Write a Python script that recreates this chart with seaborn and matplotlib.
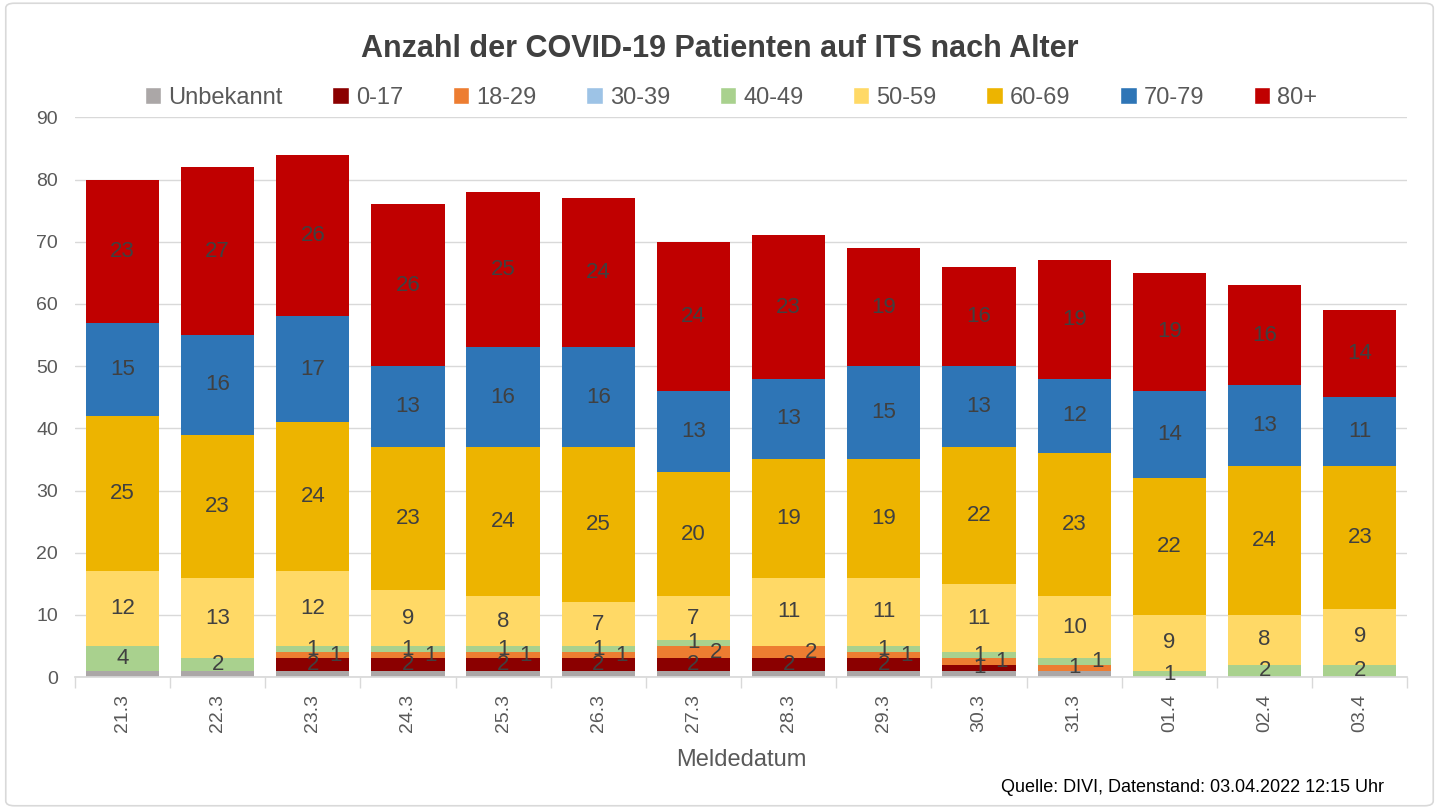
import numpy as np
import pandas as pd
import seaborn as sns
import matplotlib.pyplot as plt
from matplotlib.patches import Patch, FancyBboxPatch

# --- dati ---
datum = ["21.3", "22.3", "23.3", "24.3", "25.3", "26.3", "27.3",
         "28.3", "29.3", "30.3", "31.3", "01.4", "02.4", "03.4"]
gruppi = ["Unbekannt", "0-17", "18-29", "30-39", "40-49",
          "50-59", "60-69", "70-79", "80+"]

unbekannt = [1, 1, 1, 1, 1, 1, 1, 1, 1, 1, 1, 0, 0, 0]
a_0_17 = [0, 0, 2, 2, 2, 2, 2, 2, 2, 1, 0, 0, 0, 0]
a_18_29 = [0, 0, 1, 1, 1, 1, 2, 2, 1, 1, 1, 0, 0, 0]
a_30_39 = [0, 0, 0, 0, 0, 0, 0, 0, 0, 0, 0, 0, 0, 0]
a_40_49 = [4, 2, 1, 1, 1, 1, 1, 0, 1, 1, 1, 1, 2, 2]
a_50_59 = [12, 13, 12, 9, 8, 7, 7, 11, 11, 11, 10, 9, 8, 9]
a_60_69 = [25, 23, 24, 23, 24, 25, 20, 19, 19, 22, 23, 22, 24, 23]
a_70_79 = [15, 16, 17, 13, 16, 16, 13, 13, 15, 13, 12, 14, 13, 11]
a_80 = [23, 27, 26, 26, 25, 24, 24, 23, 19, 16, 19, 19, 16, 14]

colori = ["#ABA7A7", "#8B0000", "#ED7D31", "#9DC3E6", "#A9D18E",
          "#FFD966", "#EDB400", "#2E75B6", "#C00000"]

df = pd.DataFrame(
    [unbekannt, a_0_17, a_18_29, a_30_39, a_40_49, a_50_59, a_60_69, a_70_79, a_80],
    index=gruppi, columns=datum,
).T

sns.set_theme(style="white")
plt.rcParams["font.family"] = ["Liberation Sans", "DejaVu Sans"]
testo = "#595959"

fig = plt.figure(figsize=(14.39, 8.09), dpi=100)
ax = fig.add_axes([0.052, 0.163, 0.926, 0.692])

base = np.zeros(len(datum))
# ultima etichetta per colonna (centro / spostata a destra), per evitare sovrapposizioni
ultima_c = np.full(len(datum), -10.0)
ultima_d = np.full(len(datum), -10.0)
for gruppo, col in zip(gruppi, colori):
    valori = np.array(df[gruppo].values)
    sns.barplot(x=datum, y=valori, bottom=base, color=col, width=0.77,
                saturation=1, ax=ax, linewidth=0)
    if gruppo != "Unbekannt":
        for i, v in enumerate(valori):
            if v <= 0:
                continue
            y = base[i] + v / 2
            dx = 0.0
            if y - ultima_c[i] >= 2.8:
                ultima_c[i] = y
            elif y - ultima_d[i] >= 2.8 or ultima_d[i] < ultima_c[i]:
                dx = 0.24
                ultima_d[i] = y
            else:
                ultima_c[i] = y
            ax.text(i + dx, y, str(v), ha="center", va="center",
                    fontsize=16, color="#404040")
    base = base + valori

ax.set_ylim(0, 90)
ax.set_xlim(-0.5, len(datum) - 0.5)
ax.set_yticks(range(0, 91, 10))
ax.yaxis.grid(True, color="#D9D9D9", linewidth=1)
ax.set_axisbelow(True)
for s in ["top", "right", "left"]:
    ax.spines[s].set_visible(False)
ax.spines["bottom"].set_color("#D9D9D9")
ax.tick_params(axis="y", labelsize=14, labelcolor=testo, length=0, pad=12)
ax.tick_params(axis="x", labelsize=14, labelcolor=testo, rotation=90, length=0, pad=12)

# tacche tra le categorie
ax.set_xticks(np.arange(-0.5, len(datum)), minor=True)
ax.tick_params(axis="x", which="minor", length=8, color="#D9D9D9", width=1, bottom=True)

ax.set_xlabel("Meldedatum", fontsize=17, color=testo, labelpad=12)
ax.set_ylabel("")

fig.suptitle("Anzahl der COVID-19 Patienten auf ITS nach Alter", fontsize=22,
             fontweight="bold", color="#404040", y=0.958)

handles = [Patch(facecolor=c, label=g) for g, c in zip(gruppi, colori)]
fig.legend(handles=handles, loc="center", bbox_to_anchor=(0.508, 0.879), ncol=9,
           frameon=False, fontsize=17, handlelength=0.7, handleheight=0.7,
           handletextpad=0.3, columnspacing=2.1, labelcolor=testo)

fig.text(0.962, 0.027, "Quelle: DIVI, Datenstand: 03.04.2022 12:15 Uhr",
         ha="right", va="center", fontsize=13, color="#000000")

fig.patches.append(FancyBboxPatch((0.004, 0.004), 0.992, 0.992,
                                  boxstyle="round,pad=0,rounding_size=0.006",
                                  transform=fig.transFigure, fill=False,
                                  edgecolor="#D9D9D9", linewidth=1.2))

fig.savefig("out.png", dpi=100)
